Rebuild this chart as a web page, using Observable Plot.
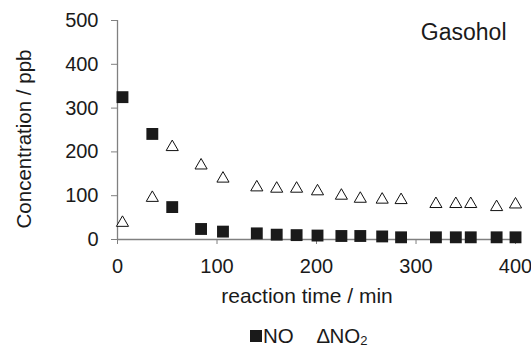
<!DOCTYPE html>
<html>
<head>
<meta charset="utf-8">
<script src="https://cdn.jsdelivr.net/npm/d3@7"></script>
<script src="https://cdn.jsdelivr.net/npm/@observablehq/plot@0.6"></script>
<style>
  html, body { margin: 0; padding: 0; background: #fff; }
  #wrap { position: relative; width: 531px; height: 347px; font-family: "Liberation Sans", Arial, sans-serif; color: #1a1a1a; overflow: hidden; }
  .lg { position: absolute; font-size: 20.5px; line-height: 20px; top: 326px; white-space: nowrap; }
  .lg sub { font-size: 13px; vertical-align: -2px; line-height: 0; }
  #sq { position: absolute; left: 250px; top: 330px; width: 12px; height: 12px; background: #1a1a1a; }
</style>
</head>
<body>
<div id="wrap"><div id="chart"></div>
  <div id="sq"></div>
  <div class="lg" style="left:263px">NO</div>
  <div class="lg" style="left:317px">∆NO<sub>2</sub></div>
</div>
<script>
const times = [5, 35, 55, 84, 106, 140, 160, 180, 201, 225, 244, 266, 285, 320, 340, 355, 381, 400];
const noValues = [325, 241, 74, 24, 18, 14, 11, 10, 9, 8, 8, 7, 5, 5, 5, 5, 5, 5];
const no2Values = [38, 95, 211, 169, 139, 119, 116, 116, 110, 100, 93, 91, 90, 81, 81, 81, 74, 80];
const xTicks = [0, 100, 200, 300, 400];
const yTicks = [0, 100, 200, 300, 400, 500];
const xLabel = "reaction time / min";
const yLabel = "Concentration / ppb";
const panelLabel = "Gasohol";

const noData = times.map((t, i) => ({t, v: noValues[i]}));
const no2Data = times.map((t, i) => ({t, v: no2Values[i]}));

const axisColor = "#808080";
const textColor = "#1a1a1a";

const chart = Plot.plot({
  width: 531,
  height: 316,
  marginLeft: 117,
  marginRight: 11,
  marginTop: 20,
  marginBottom: 77,
  style: {fontFamily: "'Liberation Sans', Arial, sans-serif", fontSize: "20px", color: textColor, background: "#fff"},
  x: {domain: [0, 405]},
  y: {domain: [0, 500]},
  marks: [
    Plot.ruleX([0], {stroke: axisColor, strokeWidth: 1.3}),
    Plot.ruleY([0], {stroke: axisColor, strokeWidth: 1.3}),
    Plot.axisX({ticks: xTicks, tickSize: 5, tickPadding: 14, stroke: axisColor, fill: textColor, label: null, fontSize: 20}),
    Plot.axisY({ticks: yTicks, tickSize: 6, tickPadding: 13, stroke: axisColor, fill: textColor, label: null, fontSize: 20}),
    Plot.dot(no2Data, {x: "t", y: "v", symbol: "triangle", r: 4.5, stroke: "#111", strokeWidth: 1, fill: "#fff"}),
    Plot.dot(noData, {x: "t", y: "v", symbol: "square", r: 6.7, fill: "#1a1a1a", stroke: "none"}),
    Plot.text([panelLabel], {frameAnchor: "top-right", dx: -14, dy: 3, fontSize: 23, fill: textColor}),
    Plot.text([xLabel], {frameAnchor: "bottom", dx: -12, dy: 63, fontSize: 21, fill: textColor}),
    Plot.text([yLabel], {frameAnchor: "left", rotate: -90, dx: -93, dy: 9, textAnchor: "middle", fontSize: 20.5, fill: textColor})
  ]
});
document.getElementById("chart").appendChild(chart);
</script>
</body>
</html>
